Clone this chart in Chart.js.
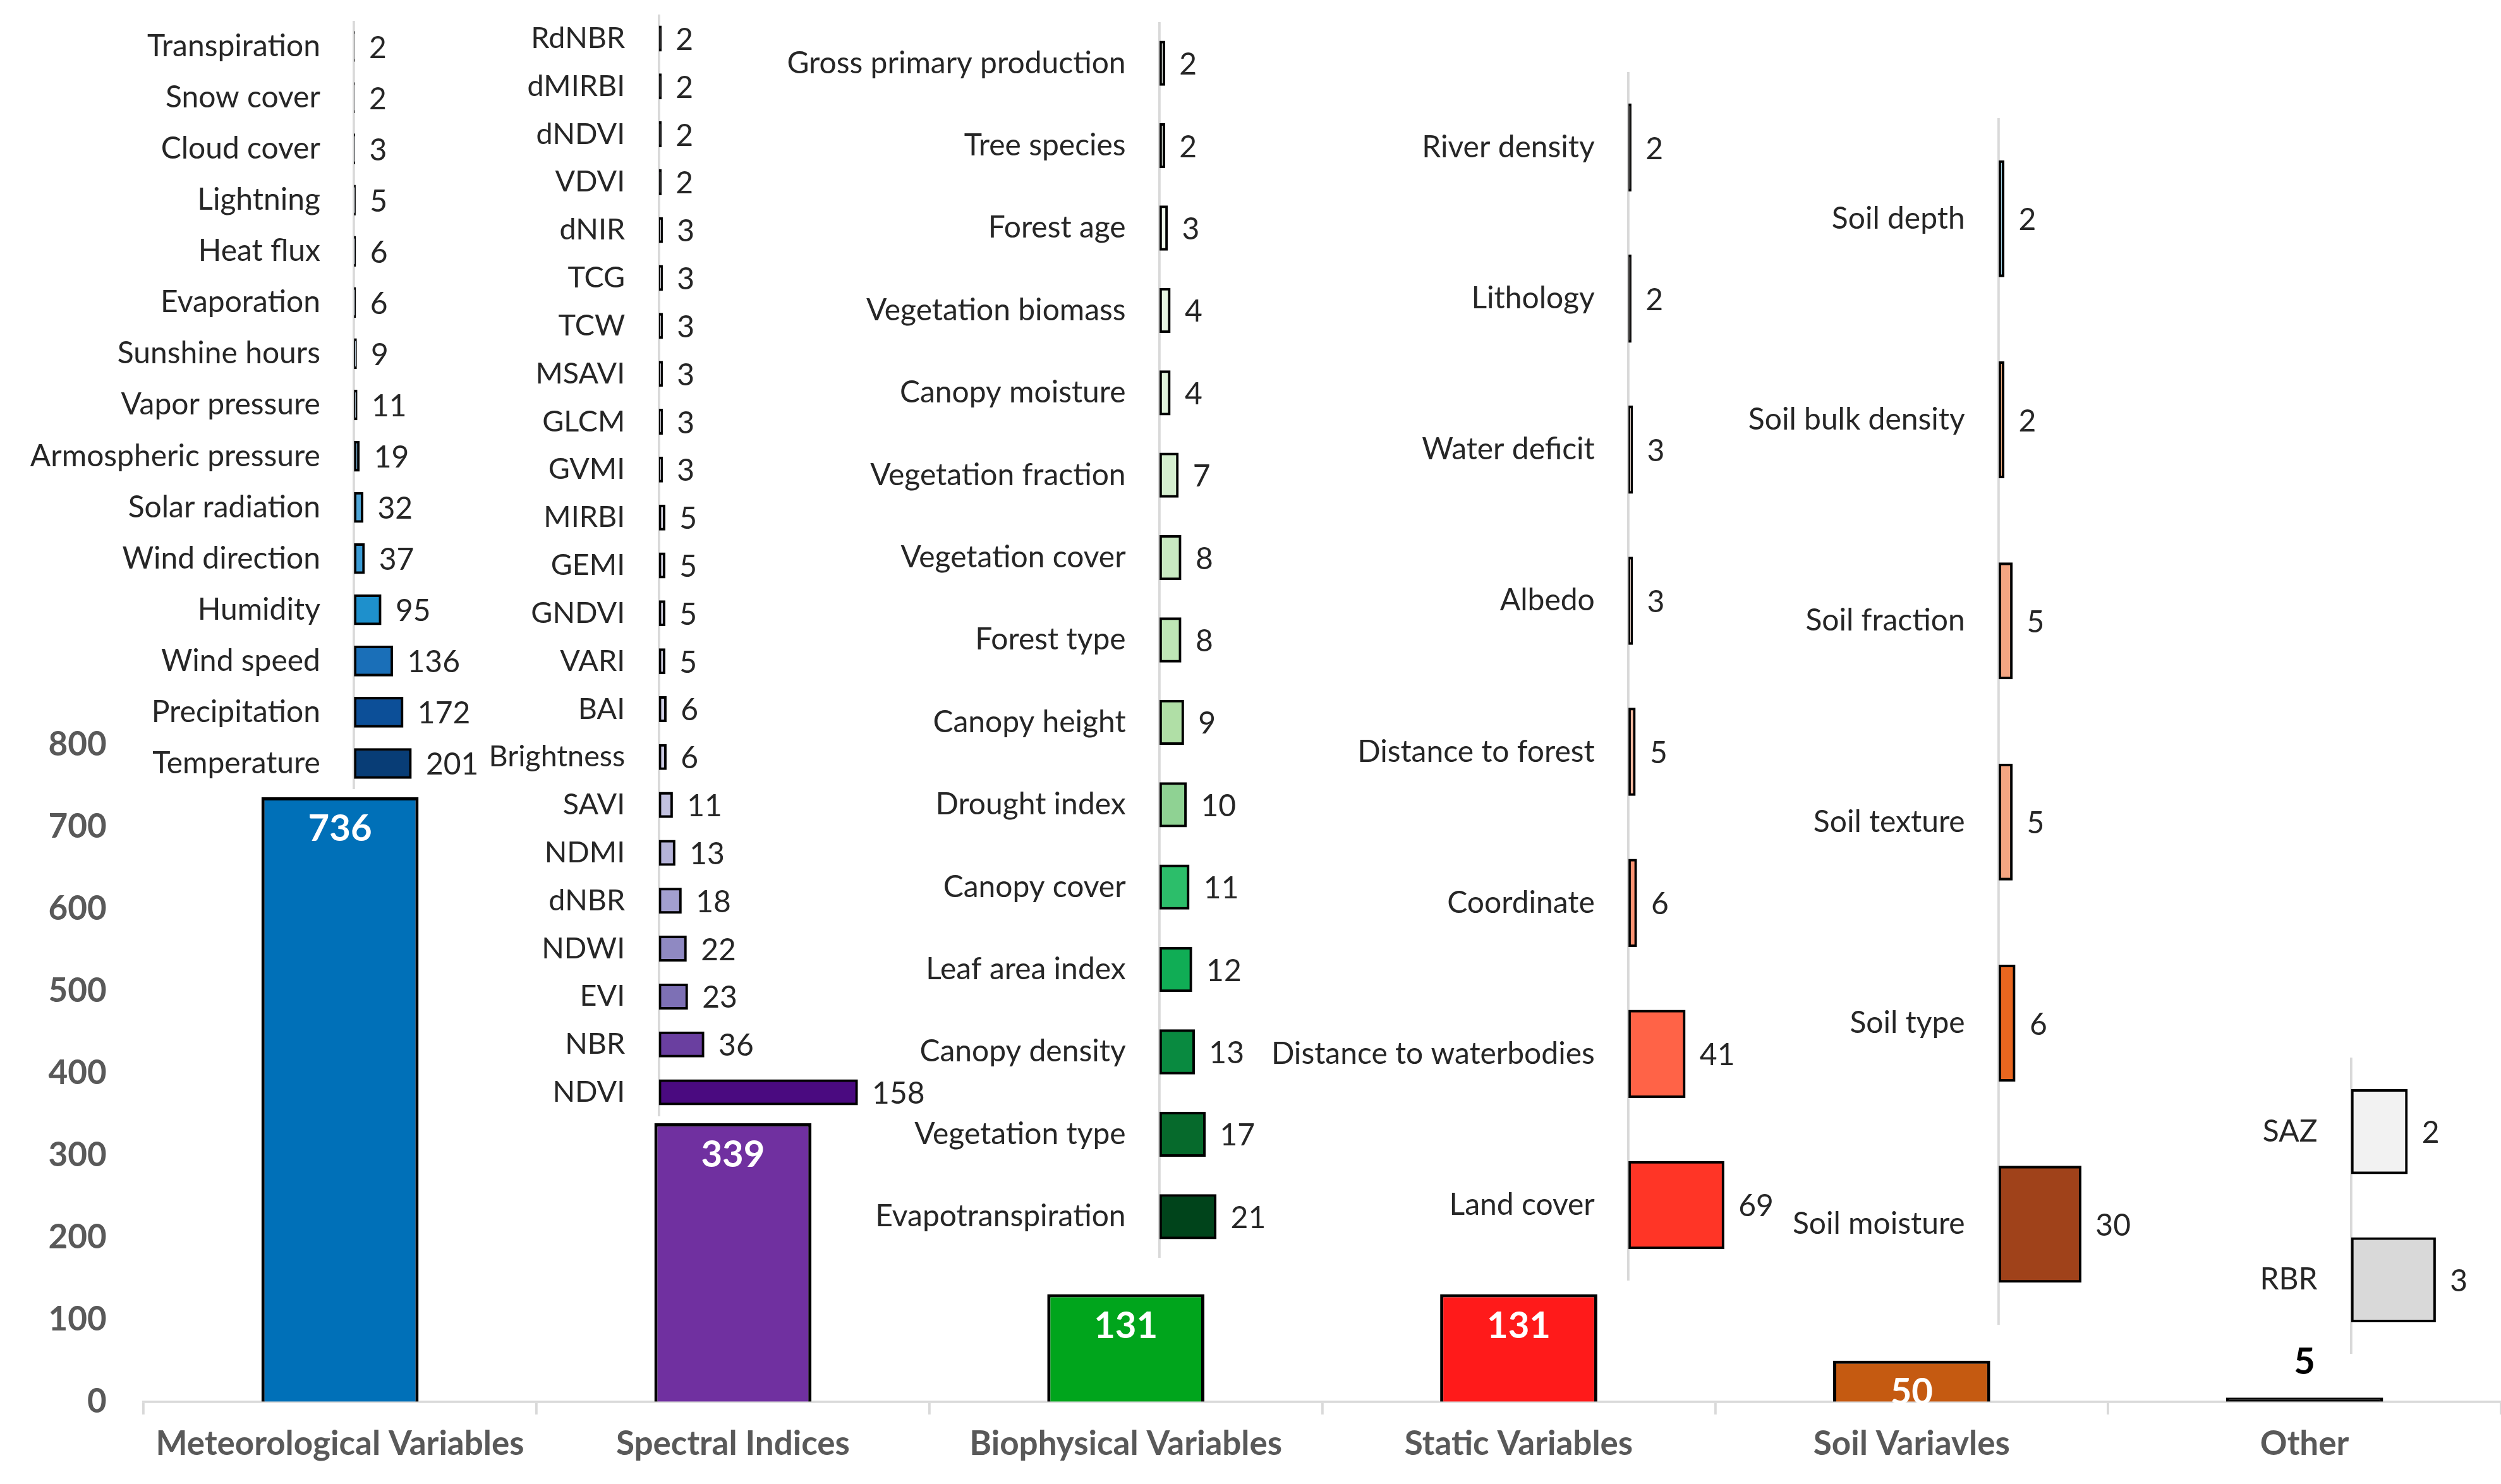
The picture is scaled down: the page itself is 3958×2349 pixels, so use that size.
<!DOCTYPE html>
<html><head><meta charset="utf-8">
<script src="https://cdn.jsdelivr.net/npm/chart.js@4"></script>
<style>
body{margin:0;background:#fff;}
#page{position:relative;width:3958px;height:2349px;overflow:hidden;background:#fff;}
canvas{position:absolute;}
</style></head>
<body><div id="page"><canvas id="main" width="3958" height="2349" style="left:0;top:0"></canvas></div>
<script>
const S = 3958 / 1568;
const FONT = 'Lato, "Open Sans", sans-serif';

// main chart data
const groups = ['Meteorological Variables', 'Spectral Indices', 'Biophysical Variables', 'Static Variables', 'Soil Variavles', 'Other'];
const groupTotals = [736, 339, 131, 131, 50, 5];
const groupColors = ['#0070B8', '#7030A0', '#00A51C', '#FF1A1A', '#C55A11', '#000000'];
const yTicks = [0, 100, 200, 300, 400, 500, 600, 700, 800];

// inset data
const meteoLabels = ['Transpiration', 'Snow cover', 'Cloud cover', 'Lightning', 'Heat flux', 'Evaporation', 'Sunshine hours', 'Vapor pressure', 'Armospheric pressure', 'Solar radiation', 'Wind direction', 'Humidity', 'Wind speed', 'Precipitation', 'Temperature'];
const meteoValues = [2, 2, 3, 5, 6, 6, 9, 11, 19, 32, 37, 95, 136, 172, 201];
const meteoColors = ['#f7fbff', '#f2f8fd', '#eaf3fb', '#e1edf8', '#d7e7f5', '#cde1f2', '#bcd8ee', '#a8cde9', '#7fbadf', '#4fa6d8', '#3a9bd5', '#1e90cc', '#1a6fb8', '#0c4f98', '#083d76'];

const specLabels = ['RdNBR', 'dMIRBI', 'dNDVI', 'VDVI', 'dNIR', 'TCG', 'TCW', 'MSAVI', 'GLCM', 'GVMI', 'MIRBI', 'GEMI', 'GNDVI', 'VARI', 'BAI', 'Brightness', 'SAVI', 'NDMI', 'dNBR', 'NDWI', 'EVI', 'NBR', 'NDVI'];
const specValues = [2, 2, 2, 2, 3, 3, 3, 3, 3, 3, 5, 5, 5, 5, 6, 6, 11, 13, 18, 22, 23, 36, 158];
const specColors = ['#fcfbfd', '#fbfafd', '#f9f8fc', '#f7f6fb', '#f5f4fa', '#f3f2f9', '#f0eff7', '#eeedf6', '#ebeaf5', '#e8e7f3', '#e4e3f1', '#e0dfef', '#dcdbed', '#d8d7eb', '#d2d1e8', '#cccbe5', '#c2c1e0', '#b5b3d9', '#a29fcf', '#8f89c2', '#7d70b5', '#6a3fa0', '#4a0a80'];

const bioLabels = ['Gross primary production', 'Tree species', 'Forest age', 'Vegetation biomass', 'Canopy moisture', 'Vegetation fraction', 'Vegetation cover', 'Forest type', 'Canopy height', 'Drought index', 'Canopy cover', 'Leaf area index', 'Canopy density', 'Vegetation type', 'Evapotranspiration'];
const bioValues = [2, 2, 3, 4, 4, 7, 8, 8, 9, 10, 11, 12, 13, 17, 21];
const bioColors = ['#f7fcf5', '#f2faf0', '#edf8ea', '#e6f5e1', '#e0f3db', '#d5efcf', '#c9eac2', '#bfe6b6', '#b0dfa6', '#8fd293', '#2cbe6a', '#10ad55', '#098a40', '#066a2c', '#00441b'];

const staticLabels = ['River density', 'Lithology', 'Water deficit', 'Albedo', 'Distance to forest', 'Coordinate', 'Distance to waterbodies', 'Land cover'];
const staticValues = [2, 2, 3, 3, 5, 6, 41, 69];
const staticColors = ['#fff5f0', '#fff0e8', '#fee8dd', '#fee0d2', '#fcbba1', '#fc9272', '#ff6347', '#ff3526'];

const soilLabels = ['Soil depth', 'Soil bulk density', 'Soil fraction', 'Soil texture', 'Soil type', 'Soil moisture'];
const soilValues = [2, 2, 5, 5, 6, 30];
const soilColors = ['#a8d8ea', '#f4b183', '#f4a582', '#f4a582', '#e8661f', '#a0421a'];

const otherLabels = ['SAZ', 'RBR'];
const otherValues = [2, 3];
const otherColors = ['#f2f2f2', '#d9d9d9'];

// main chart
const barLabels = {
  id: 'barLabels',
  afterDatasetsDraw(chart) {
    const ctx = chart.ctx;
    const meta = chart.getDatasetMeta(0);
    ctx.save();
    ctx.font = `bold ${23 * S}px ${FONT}`;
    ctx.textAlign = 'center';
    ctx.textBaseline = 'middle';
    meta.data.forEach((bar, i) => {
      const v = groupTotals[i];
      if (v < 30) {
        ctx.fillStyle = '#000';
        ctx.fillText(v, bar.x, bar.y - 22 * S);
      } else {
        ctx.fillStyle = '#fff';
        ctx.fillText(v, bar.x, bar.y + 20 * S);
      }
    });
    ctx.restore();
  }
};

new Chart(document.getElementById('main'), {
  type: 'bar',
  data: {
    labels: groups,
    datasets: [{
      data: groupTotals,
      backgroundColor: groupColors,
      borderColor: '#000',
      borderWidth: 2 * S,
      categoryPercentage: 1,
      barPercentage: 0.4
    }]
  },
  options: {
    responsive: false, animation: false, devicePixelRatio: 1,
    layout: { padding: { top: 467 * S, right: -61 * S, left: 0, bottom: 0 } },
    plugins: { legend: { display: false }, tooltip: { enabled: false } },
    scales: {
      x: {
        afterFit: s => { s.height = (2349 / S - 879) * S; },
        grid: { display: true, drawOnChartArea: false, offset: true, tickLength: 8 * S, color: '#d9d9d9', lineWidth: 1.5 * S },
        border: { color: '#d9d9d9', width: 1.5 * S },
        ticks: { font: { family: FONT, size: 21 * S, weight: 'bold' }, color: '#595959', padding: 6 * S, maxRotation: 0 }
      },
      y: {
        min: 0, max: 800,
        afterFit: s => { s.width = 90 * S; s.paddingTop = 0; },
        afterBuildTicks: s => { s.ticks = yTicks.map(v => ({ value: v })); },
        grid: { display: false },
        border: { display: false },
        ticks: { font: { family: FONT, size: 21 * S, weight: 'bold' }, color: '#595959', padding: 20 * S }
      }
    }
  },
  plugins: [barLabels]
});

// insets
const valueLabels = {
  id: 'valueLabels',
  afterDatasetsDraw(chart) {
    const ctx = chart.ctx;
    const ds = chart.data.datasets[0];
    ctx.save();
    ctx.font = `${19 * S}px ${FONT}`;
    ctx.fillStyle = '#262626';
    ctx.textAlign = 'left';
    ctx.textBaseline = 'middle';
    chart.getDatasetMeta(0).data.forEach((bar, i) => {
      ctx.fillText(ds.data[i], bar.x + 9 * S, bar.y + 1 * S);
    });
    ctx.restore();
  }
};

function inset(labels, values, colors, o) {
  const c = document.createElement('canvas');
  const lw = o.lw * S, bw = o.bw * S, pr = 70 * S;
  const w = lw + bw + pr, h = o.h * S;
  c.width = w; c.height = h;
  c.style.left = ((o.axis - o.lw) * S) + 'px';
  c.style.top = (o.top * S) + 'px';
  document.getElementById('page').appendChild(c);
  new Chart(c, {
    type: 'bar',
    data: { labels, datasets: [{ data: values, backgroundColor: colors, borderColor: '#000', borderWidth: 1.6 * S, barThickness: o.bt * S, borderSkipped: false }] },
    options: {
      indexAxis: 'y', responsive: false, animation: false, devicePixelRatio: 1,
      layout: { padding: { right: pr, top: 0, bottom: 0, left: 0 } },
      plugins: { legend: { display: false }, tooltip: { enabled: false } },
      scales: {
        x: { display: false, min: 0, max: o.bw / o.k },
        y: {
          afterFit: s => { s.width = lw; s.paddingTop = 0; s.paddingBottom = 0; },
          grid: { display: false },
          border: { display: true, color: '#d9d9d9', width: 1.5 * S },
          ticks: { font: { family: FONT, size: o.fs * S }, color: '#262626', padding: 18 * S, autoSkip: false }
        }
      }
    },
    plugins: [valueLabels]
  });
}

inset(meteoLabels, meteoValues, meteoColors, { axis: 222, lw: 220, bw: 80, k: 0.18, top: 13, h: 482, bt: 19, fs: 19 });
inset(specLabels, specValues, specColors, { axis: 413, lw: 110, bw: 170, k: 0.79, top: 9, h: 691, bt: 16, fs: 18.5 });
inset(bioLabels, bioValues, bioColors, { axis: 727, lw: 250, bw: 80, k: 1.7, top: 14, h: 775, bt: 28, fs: 19 });
inset(staticLabels, staticValues, staticColors, { axis: 1021, lw: 235, bw: 100, k: 0.87, top: 45, h: 758, bt: 55, fs: 19 });
inset(soilLabels, soilValues, soilColors, { axis: 1253, lw: 170, bw: 80, k: 1.73, top: 74, h: 757, bt: 73, fs: 19 });
inset(otherLabels, otherValues, otherColors, { axis: 1474, lw: 80, bw: 80, k: 17.7, top: 663, h: 186, bt: 53, fs: 19 });
</script></body></html>
